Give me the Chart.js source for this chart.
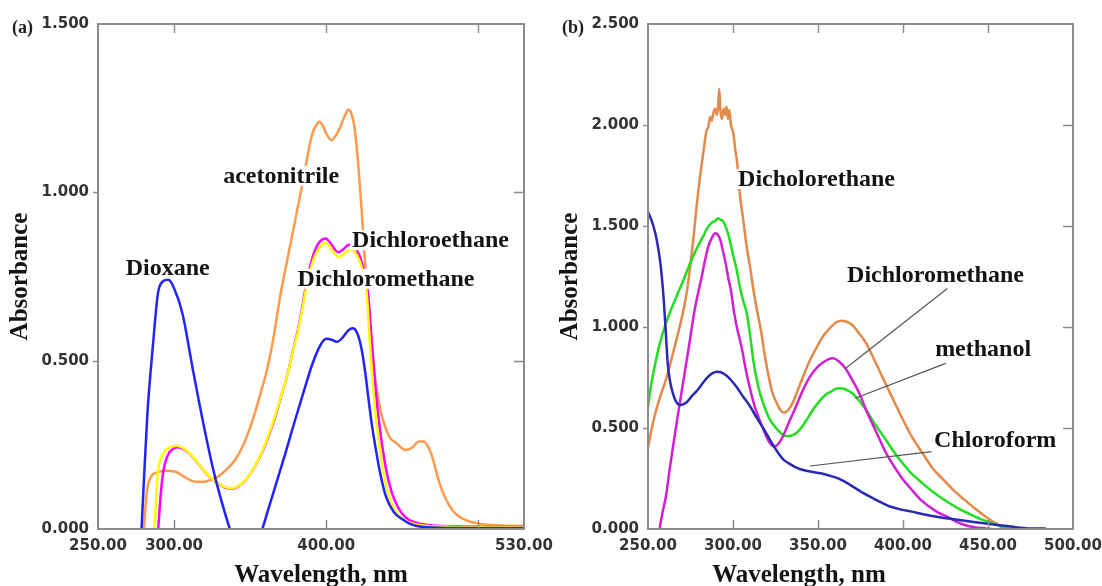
<!DOCTYPE html>
<html>
<head>
<meta charset="utf-8">
<script src="https://cdn.jsdelivr.net/npm/chart.js@4.4.1/dist/chart.umd.min.js"></script>
<style>
  html, body { margin: 0; padding: 0; background: #fff; overflow: hidden; width: 1102px; height: 586px; }
  .panel { position: absolute; top: 0; }
</style>
</head>
<body>
<canvas id="chartA" class="panel" width="570" height="586" style="left:0"></canvas>
<canvas id="chartB" class="panel" width="570" height="586" style="left:550px"></canvas>
<script>
// ---- panel (a) ----
const xTicksA = [250, 300, 400, 500, 530];

const dioxaneNm = [277.8, 278.6, 280.2, 282.5, 286, 289.4, 292.5, 296.3, 300, 305.5, 312.5, 319.4, 326.3, 332, 336.7, 342, 350, 358, 362, 367.8, 373.5, 379.3, 385, 390.9, 396, 400, 403.5, 407, 411, 414.5, 417.4, 420, 423, 425.5, 427.7, 430, 432.3, 435.5, 439.3, 444.5, 450.8, 456, 462.3, 475, 495, 530];
const dioxaneAbs = [-0.06, 0, 0.146, 0.345, 0.54, 0.70, 0.735, 0.74, 0.715, 0.64, 0.47, 0.31, 0.166, 0.07, 0, -0.06, -0.08, 0, 0.06, 0.145, 0.23, 0.32, 0.405, 0.49, 0.545, 0.565, 0.562, 0.556, 0.57, 0.59, 0.596, 0.585, 0.54, 0.47, 0.39, 0.31, 0.245, 0.165, 0.096, 0.05, 0.027, 0.014, 0.007, 0.004, 0.003, 0.003];

const acetoNm = [279.5, 280.2, 282, 284.8, 289, 294, 298, 301, 305, 310.2, 315, 319.4, 324, 328.6, 334, 340.1, 346, 351.7, 356, 360.9, 365, 370.1, 377, 384, 390.9, 393.5, 395.5, 397.5, 400, 403.5, 406.5, 409.3, 412, 414.6, 416.5, 418.5, 420.8, 423.1, 425.4, 427.7, 430, 432.3, 435.7, 441.5, 446.2, 451.9, 456, 461.1, 464, 466.9, 470, 473.8, 478, 483, 488, 494.6, 508.4, 530];
const acetoAbs = [-0.05, 0, 0.107, 0.155, 0.168, 0.173, 0.172, 0.17, 0.16, 0.146, 0.14, 0.14, 0.146, 0.155, 0.175, 0.205, 0.255, 0.324, 0.39, 0.47, 0.56, 0.70, 0.858, 1.017, 1.175, 1.20, 1.21, 1.20, 1.175, 1.155, 1.17, 1.195, 1.225, 1.245, 1.235, 1.195, 1.096, 0.957, 0.80, 0.66, 0.55, 0.443, 0.353, 0.274, 0.255, 0.235, 0.24, 0.26, 0.26, 0.245, 0.21, 0.146, 0.095, 0.056, 0.035, 0.022, 0.012, 0.009];

const dcmANm = [286.5, 287.1, 288, 288.9, 290, 291.7, 294, 296.3, 299, 302, 306, 310.2, 315, 319.4, 324, 328.6, 333, 337.8, 342, 347, 351.5, 356.3, 361, 365.5, 370, 374.7, 378, 381.6, 384, 386.2, 388.5, 390.9, 393, 395.5, 399.6, 403.5, 406, 408.2, 411, 413.9, 416.5, 418.5, 420.5, 422.5, 424.5, 426.6, 428.9, 432.3, 436.9, 440, 443.8, 448, 453.1, 460, 466.9, 480, 500, 530];
const dcmAAbs = [-0.05, 0, 0.07, 0.146, 0.19, 0.215, 0.232, 0.24, 0.246, 0.247, 0.24, 0.225, 0.2, 0.175, 0.153, 0.136, 0.125, 0.121, 0.127, 0.146, 0.175, 0.215, 0.265, 0.324, 0.39, 0.462, 0.525, 0.59, 0.645, 0.70, 0.75, 0.79, 0.815, 0.835, 0.85, 0.83, 0.815, 0.807, 0.815, 0.826, 0.83, 0.825, 0.81, 0.79, 0.755, 0.70, 0.54, 0.344, 0.185, 0.115, 0.066, 0.04, 0.022, 0.013, 0.009, 0.007, 0.006, 0.005];

const dceANm = [289, 289.6, 290.5, 292, 294, 297, 300, 302.5, 306, 310.2, 315, 319.4, 324, 328.6, 333, 337.8, 342, 347, 351.5, 356.3, 361, 365.5, 370, 374.7, 378, 381.6, 384, 386.2, 388.5, 390.9, 393, 395.5, 399.6, 403.5, 406, 408.2, 411, 413.9, 416.5, 418.5, 420.5, 422.5, 424.5, 427.5, 430.2, 434, 439, 443, 447, 452, 458, 468, 485, 500, 530];
const dceAAbs = [-0.05, 0, 0.06, 0.14, 0.195, 0.228, 0.24, 0.243, 0.238, 0.224, 0.199, 0.174, 0.152, 0.135, 0.124, 0.12, 0.126, 0.145, 0.174, 0.213, 0.262, 0.32, 0.388, 0.462, 0.527, 0.595, 0.652, 0.71, 0.762, 0.805, 0.832, 0.852, 0.863, 0.845, 0.828, 0.822, 0.83, 0.842, 0.845, 0.838, 0.825, 0.805, 0.77, 0.70, 0.54, 0.344, 0.185, 0.11, 0.066, 0.035, 0.02, 0.011, 0.008, 0.007, 0.006];

// ---- panel (b) ----
const xTicksB = [250, 300, 350, 400, 450, 500];

const chloroNm = [250, 252, 254.3, 256, 257.5, 259.3, 260.5, 261.6, 263, 264.7, 266.5, 268.8, 271, 273, 276, 279.2, 282, 285.4, 288, 290.5, 293, 295.7, 298.5, 301.9, 306, 310.2, 314, 318.5, 322.5, 326.7, 329.5, 332.9, 337, 341.2, 346, 351.5, 356.5, 361.9, 367, 372.2, 377, 382.5, 387.5, 392.9, 399, 405.3, 412, 419.8, 430, 440.5, 450, 461.1, 467, 473.5, 484];
const chloroAbs = [1.57, 1.53, 1.464, 1.39, 1.30, 1.13, 0.97, 0.82, 0.73, 0.67, 0.63, 0.614, 0.618, 0.63, 0.66, 0.688, 0.72, 0.754, 0.772, 0.779, 0.776, 0.762, 0.74, 0.705, 0.655, 0.605, 0.55, 0.49, 0.43, 0.375, 0.345, 0.325, 0.305, 0.292, 0.283, 0.276, 0.265, 0.251, 0.228, 0.201, 0.176, 0.152, 0.13, 0.11, 0.096, 0.086, 0.073, 0.061, 0.048, 0.036, 0.026, 0.015, 0.008, 0.003, 0.002];

const dcmBNm = [256, 256.8, 258.5, 260.5, 262.5, 264.7, 267.5, 270.9, 274, 277.1, 279, 281.2, 283.3, 285.4, 287.5, 289.5, 290.8, 292.6, 294, 295.7, 297.3, 298.8, 300.5, 302.5, 305, 307.5, 310.2, 313, 316.4, 319.5, 322.6, 325, 328.8, 332.5, 337, 341, 345.3, 349.5, 353.6, 356, 358.8, 362, 366.2, 370, 374.3, 379, 384.6, 389.5, 394.9, 400, 405.3, 410, 415.6, 420.5, 426, 431, 436.3, 442, 448.7, 452];
const dcmBAbs = [-0.05, 0, 0.08, 0.16, 0.28, 0.407, 0.56, 0.738, 0.90, 1.068, 1.15, 1.233, 1.32, 1.397, 1.44, 1.464, 1.46, 1.43, 1.38, 1.315, 1.24, 1.18, 1.08, 0.99, 0.902, 0.79, 0.688, 0.60, 0.523, 0.46, 0.416, 0.41, 0.449, 0.52, 0.605, 0.685, 0.754, 0.80, 0.828, 0.84, 0.845, 0.832, 0.795, 0.74, 0.672, 0.575, 0.474, 0.385, 0.308, 0.245, 0.193, 0.148, 0.11, 0.082, 0.061, 0.038, 0.02, 0.009, 0.003, 0];

const methNm = [250, 252, 254.3, 257, 260.5, 263.5, 266.7, 270.9, 275, 279.2, 282.5, 285.4, 288, 289.5, 291.1, 292.5, 294, 295.7, 297.8, 299.8, 302, 304, 306, 308.1, 310.2, 312.2, 315, 318.5, 321.5, 324.7, 327.5, 330.9, 334, 337.1, 340, 343.3, 347, 351.5, 354.5, 357.7, 360, 362.9, 366, 370.2, 374, 378.4, 383, 388.7, 394, 399.1, 405, 411.5, 418.5, 426, 433, 440.5, 447, 452.9, 457, 461.1, 465];
const methAbs = [0.605, 0.72, 0.82, 0.92, 1.018, 1.085, 1.15, 1.233, 1.32, 1.397, 1.45, 1.497, 1.52, 1.525, 1.538, 1.532, 1.525, 1.497, 1.44, 1.365, 1.29, 1.20, 1.13, 1.068, 0.95, 0.82, 0.70, 0.605, 0.545, 0.506, 0.48, 0.46, 0.462, 0.474, 0.50, 0.54, 0.59, 0.639, 0.665, 0.68, 0.692, 0.697, 0.692, 0.672, 0.637, 0.589, 0.525, 0.457, 0.39, 0.333, 0.275, 0.226, 0.178, 0.135, 0.10, 0.069, 0.045, 0.028, 0.014, 0.003, 0];

const dceBNm = [250, 252, 254.3, 257, 260.5, 263.5, 266.7, 270, 273, 276.6, 278.5, 280.6, 282.5, 284.5, 285.5, 286.5, 287.5, 288.4, 289.5, 290.5, 291.3, 291.9, 292.6, 293.5, 294.5, 295.3, 296.2, 297, 297.8, 298.8, 300.2, 301.3, 302.5, 304, 306, 308, 309.8, 311.2, 313.5, 316.4, 318.5, 320.6, 323, 325.8, 327.8, 329.9, 332, 335, 338, 341.2, 345, 349.4, 353.5, 357.7, 360.5, 363.5, 366.5, 370.2, 374, 378.4, 383, 388.7, 394, 399.1, 405, 411.5, 417.5, 423.9, 430, 436.3, 442.5, 448.7, 454, 459.1, 463];
const dceBAbs = [0.40, 0.49, 0.573, 0.65, 0.738, 0.83, 0.936, 1.05, 1.183, 1.43, 1.59, 1.744, 1.86, 1.975, 1.99, 2.04, 2.02, 2.058, 2.08, 2.05, 2.10, 2.18, 2.07, 2.03, 2.08, 2.05, 2.09, 2.03, 2.074, 2.0, 1.96, 1.88, 1.81, 1.66, 1.53, 1.40, 1.31, 1.23, 1.11, 0.985, 0.87, 0.771, 0.68, 0.622, 0.59, 0.576, 0.585, 0.622, 0.685, 0.754, 0.83, 0.902, 0.96, 1.001, 1.022, 1.031, 1.027, 1.01, 0.97, 0.919, 0.84, 0.738, 0.645, 0.556, 0.46, 0.375, 0.30, 0.243, 0.19, 0.144, 0.10, 0.061, 0.03, 0.008, 0];

// text labels placed in data units (nm, absorbance)
const notesA = [
  { text: 'Dioxane', x: 268.2, y: 0.775 },
  { text: 'acetonitrile', x: 332.3, y: 1.049 },
  { text: 'Dichloroethane', x: 417.0, y: 0.858 },
  { text: 'Dichloromethane', x: 381.2, y: 0.743 }
];
const notesB = [
  { text: 'Dicholorethane', x: 303.0, y: 1.733 },
  { text: 'Dichloromethane', x: 367.1, y: 1.257 },
  { text: 'methanol', x: 418.9, y: 0.891 },
  { text: 'Chloroform', x: 418.3, y: 0.441 }
];
const pointersB = [
  [426.1, 1.191, 366.1, 0.795],
  [425.1, 0.820, 371.9, 0.647],
  [416.8, 0.383, 345.4, 0.312]
];

Chart.defaults.font.family = '"DejaVu Sans", sans-serif';

function series(label, nm, abs, color) {
  return {
    label: label,
    data: nm.map((v, i) => ({ x: v, y: abs[i] })),
    borderColor: color,
    borderWidth: 2.5,
    pointRadius: 0,
    fill: false,
    cubicInterpolationMode: 'monotone'
  };
}

const panelPlugin = {
  id: 'panelNotes',
  afterDraw(chart, args, o) {
    const { ctx, chartArea: a } = chart;
    const x = chart.scales.x, y = chart.scales.y;
    ctx.save();

    // frame + inward tick marks
    ctx.strokeStyle = '#8c8c8c';
    ctx.lineWidth = 2;
    ctx.strokeRect(a.left, a.top, a.right - a.left, a.bottom - a.top);
    ctx.lineWidth = 1.5;
    ctx.beginPath();
    x.ticks.forEach(t => {
      if (t.value <= x.min || t.value >= x.max) return;
      const px = Math.round(x.getPixelForValue(t.value)) + 0.5;
      ctx.moveTo(px, a.top); ctx.lineTo(px, a.top + 9);
      ctx.moveTo(px, a.bottom); ctx.lineTo(px, a.bottom - 9);
    });
    y.ticks.forEach(t => {
      if (t.value <= y.min || t.value >= y.max) return;
      const py = Math.round(y.getPixelForValue(t.value)) + 0.5;
      ctx.moveTo(a.left - 5, py); ctx.lineTo(a.left, py);
      ctx.moveTo(a.right, py); ctx.lineTo(a.right - 10, py);
    });
    ctx.stroke();

    // leader lines
    ctx.strokeStyle = '#555';
    ctx.lineWidth = 1.2;
    (o.pointers || []).forEach(p => {
      ctx.beginPath();
      ctx.moveTo(x.getPixelForValue(p[0]), y.getPixelForValue(p[1]));
      ctx.lineTo(x.getPixelForValue(p[2]), y.getPixelForValue(p[3]));
      ctx.stroke();
    });

    // curve labels
    ctx.font = 'bold 24px "Liberation Serif"';
    ctx.textBaseline = 'middle';
    ctx.textAlign = 'left';
    o.notes.forEach(n => {
      const lx = x.getPixelForValue(n.x), ly = y.getPixelForValue(n.y);
      const w = ctx.measureText(n.text).width;
      ctx.fillStyle = '#fff';
      ctx.fillRect(lx - 2, ly - 10, w + 4, 20);
      ctx.fillStyle = '#141414';
      ctx.fillText(n.text, lx, ly + 1);
    });

    // panel tag
    ctx.font = 'bold 18px "Liberation Serif"';
    ctx.fillStyle = '#1e1e1e';
    ctx.fillText(o.tag, 12, a.top + 4);

    // x axis title
    ctx.font = 'bold 25px "Liberation Serif"';
    ctx.textAlign = 'center';
    ctx.textBaseline = 'alphabetic';
    ctx.fillStyle = '#141414';
    ctx.fillText('Wavelength, nm', x.getPixelForValue(o.titleAt), 582);
    ctx.restore();
  }
};

function makeChart(id, datasets, xMax, xTicks, yMax, plugOpts, padRight) {
  return new Chart(document.getElementById(id), {
    type: 'line',
    data: { datasets: datasets },
    plugins: [panelPlugin],
    options: {
      responsive: false,
      animation: false,
      devicePixelRatio: 1,
      layout: { padding: { left: 0, right: padRight, top: 24, bottom: 0 } },
      plugins: {
        legend: { display: false },
        tooltip: { enabled: false },
        panelNotes: plugOpts
      },
      scales: {
        x: {
          type: 'linear',
          min: 250,
          max: xMax,
          afterBuildTicks: s => { s.ticks = xTicks.map(v => ({ value: v })); },
          afterFit: s => { s.height = 57; },
          grid: { display: false, drawTicks: false },
          border: { display: false },
          ticks: {
            autoSkip: false,
            maxRotation: 0,
            padding: 8,
            color: '#333',
            font: { family: '"DejaVu Sans"', weight: 'bold', size: 15 },
            callback: v => (v === 500 && xMax !== 500) ? '' : v.toFixed(2)
          }
        },
        y: {
          min: 0,
          max: yMax,
          afterFit: s => { s.width = 98; },
          grid: { display: false, drawTicks: false },
          border: { display: false },
          ticks: {
            stepSize: 0.5,
            padding: 9,
            color: '#333',
            font: { family: '"DejaVu Sans"', weight: 'bold', size: 15 },
            callback: v => v.toFixed(3)
          },
          title: {
            display: true,
            text: 'Absorbance',
            color: '#141414',
            padding: 6,
            font: { family: '"Liberation Serif"', weight: 'bold', size: 25 }
          }
        }
      }
    }
  });
}

makeChart('chartA', [
  series('Dioxane', dioxaneNm, dioxaneAbs, '#2323ff'),
  series('Dichloromethane', dcmANm, dcmAAbs, '#ffff00'),
  series('Dichloroethane', dceANm, dceAAbs, '#ff00ff'),
  series('acetonitrile', acetoNm, acetoAbs, '#ff9a4d')
], 530, xTicksA, 1.5, { tag: '(a)', notes: notesA, pointers: [], titleAt: 396.6 }, 46);

makeChart('chartB', [
  series('Chloroform', chloroNm, chloroAbs, '#2a2ab4'),
  series('Dichloromethane', dcmBNm, dcmBAbs, '#d21fd2'),
  series('methanol', methNm, methAbs, '#22dd22'),
  series('Dicholorethane', dceBNm, dceBAbs, '#e3894a')
], 500, xTicksB, 2.5, { tag: '(b)', notes: notesB, pointers: pointersB, titleAt: 338.8 }, 47);
</script>
</body>
</html>
